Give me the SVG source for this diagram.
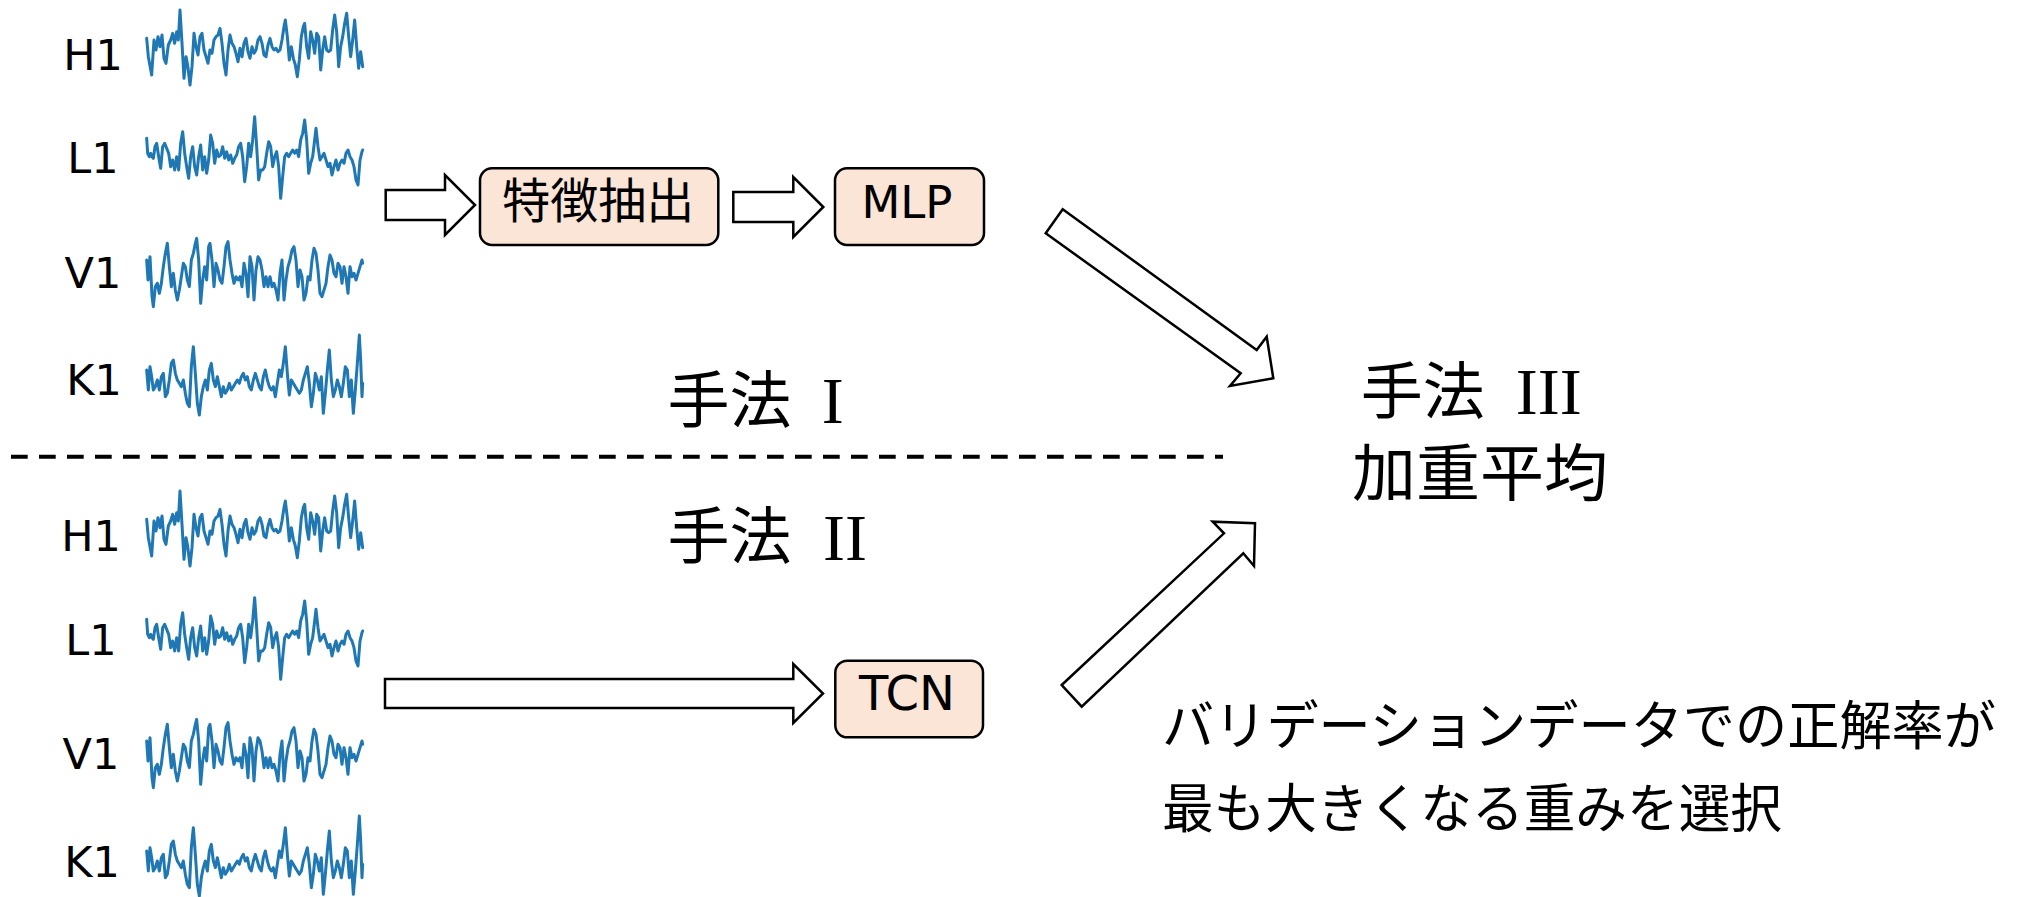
<svg xmlns="http://www.w3.org/2000/svg" xmlns:xlink="http://www.w3.org/1999/xlink" width="2022" height="897" viewBox="0 0 2022 897">
<style>
.bg{fill:#ffffff}
.lbl{font-family:"DejaVu Sans","Liberation Sans",sans-serif;font-size:43px;fill:#000;text-anchor:middle}
.wave{fill:none;stroke:#1f77b4;stroke-width:9;stroke-linejoin:round;stroke-linecap:round}
.box{fill:#fbe5d6;stroke:#000;stroke-width:2.5}
.arrow{fill:#ffffff;stroke:#000;stroke-width:2.5;stroke-linejoin:miter}
.jp{font-family:"Noto Sans CJK JP","Noto Sans CJK SC",sans-serif;fill:#000}
.lat{font-family:"DejaVu Sans","Liberation Sans",sans-serif;fill:#000;text-anchor:middle}
.rom{font-family:"Liberation Serif",serif}
.dash{fill:none;stroke:#000;stroke-width:4;stroke-dasharray:16.7 11.3}
</style>
<defs>
<path id="wH" d="M440,115 L445,170 L455,225 L462,120 L468,150 L474,110 L480,140 L486,105 L492,175 L498,190 L505,135 L512,120 L518,100 L524,130 L530,95 L535,120 L540,30 L546,130 L552,235 L558,170 L563,195 L570,255 L576,200 L582,100 L588,140 L594,165 L600,110 L606,100 L612,150 L618,170 L624,190 L630,150 L636,160 L642,120 L648,110 L654,105 L660,85 L666,130 L672,190 L678,225 L684,150 L690,105 L696,130 L702,140 L708,160 L714,185 L720,145 L726,170 L732,130 L738,115 L744,155 L750,175 L756,140 L762,160 L768,150 L774,120 L780,110 L786,130 L792,165 L798,170 L804,135 L810,115 L816,140 L822,150 L828,145 L834,155 L840,150 L846,120 L852,80 L856,60 L862,110 L868,180 L874,140 L880,175 L886,195 L892,230 L898,180 L904,110 L910,80 L914,70 L920,140 L926,175 L932,95 L938,120 L944,160 L950,100 L956,110 L962,210 L968,150 L974,110 L980,150 L986,155 L992,150 L998,90 L1004,45 L1010,95 L1016,200 L1022,140 L1028,110 L1034,70 L1040,40 L1046,110 L1052,170 L1058,120 L1064,60 L1070,140 L1076,205 L1082,155 L1086,185 L1088,200"/>
<path id="wL" d="M440,415 L443,460 L448,470 L452,460 L456,470 L460,475 L465,440 L470,430 L476,470 L482,505 L488,440 L494,430 L500,445 L506,460 L512,500 L518,480 L524,510 L530,470 L536,510 L542,430 L548,395 L554,460 L560,500 L566,535 L572,470 L578,440 L584,500 L590,525 L596,470 L602,435 L608,510 L614,470 L620,520 L626,480 L632,405 L638,430 L644,490 L650,450 L656,470 L662,465 L668,440 L674,475 L680,455 L686,480 L692,465 L698,490 L704,475 L710,465 L716,440 L722,430 L728,470 L734,545 L740,500 L746,430 L752,470 L758,420 L764,350 L770,440 L776,540 L782,510 L788,510 L794,500 L800,460 L806,425 L812,440 L818,500 L824,470 L830,455 L836,500 L842,595 L848,530 L854,470 L860,460 L866,470 L872,460 L878,450 L884,460 L890,450 L896,470 L902,420 L908,400 L914,360 L920,420 L926,520 L932,490 L938,470 L944,420 L948,385 L954,440 L960,480 L966,470 L972,460 L978,480 L984,500 L990,490 L996,525 L1002,500 L1008,480 L1014,510 L1020,490 L1026,480 L1032,490 L1038,460 L1044,450 L1050,470 L1056,480 L1062,500 L1068,540 L1074,555 L1080,480 L1086,455 L1088,450"/>
<path id="wV" d="M440,780 L444,840 L450,770 L456,890 L460,920 L466,860 L472,850 L478,880 L484,850 L490,800 L496,760 L502,730 L508,800 L514,860 L520,820 L526,870 L532,900 L538,870 L544,830 L550,790 L556,800 L562,840 L568,860 L574,780 L580,760 L586,730 L590,715 L596,780 L602,910 L608,840 L614,800 L620,840 L626,740 L630,730 L636,780 L642,860 L648,790 L654,810 L660,840 L666,850 L672,800 L678,740 L684,725 L690,780 L696,820 L702,850 L708,830 L714,840 L720,830 L726,860 L732,790 L738,820 L744,890 L750,770 L756,800 L762,900 L768,810 L774,770 L780,780 L786,810 L792,860 L798,830 L804,860 L810,830 L816,860 L822,850 L828,870 L834,900 L840,820 L846,780 L852,900 L858,840 L864,800 L870,780 L876,750 L882,740 L888,780 L894,860 L900,810 L906,830 L912,900 L918,880 L924,830 L930,840 L936,780 L942,745 L948,760 L954,810 L960,880 L966,890 L972,870 L978,850 L984,800 L990,765 L996,780 L1002,820 L1008,830 L1014,790 L1020,800 L1026,850 L1032,800 L1038,830 L1044,880 L1050,800 L1056,830 L1062,820 L1068,840 L1074,820 L1080,800 L1086,780 L1088,790"/>
<path id="wK" d="M440,1110 L445,1170 L450,1100 L455,1130 L460,1170 L466,1160 L472,1140 L478,1170 L484,1130 L490,1120 L496,1190 L502,1180 L508,1140 L514,1090 L520,1080 L526,1120 L532,1140 L538,1150 L544,1160 L550,1140 L556,1180 L562,1210 L568,1220 L574,1100 L580,1040 L586,1120 L592,1210 L598,1245 L604,1190 L610,1160 L616,1140 L622,1170 L628,1110 L634,1090 L640,1140 L646,1160 L652,1130 L658,1160 L664,1190 L670,1160 L676,1180 L682,1170 L688,1150 L694,1170 L700,1160 L706,1150 L712,1140 L718,1150 L724,1130 L730,1120 L736,1140 L742,1130 L748,1160 L754,1170 L760,1140 L766,1120 L772,1140 L778,1160 L784,1170 L790,1130 L796,1110 L802,1140 L808,1160 L814,1170 L820,1160 L826,1190 L832,1150 L838,1110 L844,1130 L850,1090 L856,1040 L862,1120 L868,1185 L874,1140 L880,1150 L886,1160 L892,1170 L898,1180 L904,1170 L910,1140 L916,1120 L922,1100 L928,1150 L934,1220 L940,1180 L946,1120 L952,1140 L958,1170 L964,1130 L970,1240 L976,1180 L982,1110 L988,1050 L994,1140 L1000,1190 L1006,1170 L1012,1140 L1018,1160 L1024,1190 L1030,1150 L1036,1100 L1042,1110 L1048,1190 L1054,1140 L1060,1240 L1066,1170 L1072,1090 L1078,1005 L1082,1080 L1086,1190 L1088,1150"/>
</defs>
<rect class="bg" x="0" y="0" width="2022" height="897"/>

<g id="signals-top">
  <g transform="scale(0.333333)">
    <use xlink:href="#wH" href="#wH" class="wave"/>
    <use xlink:href="#wL" href="#wL" class="wave"/>
    <use xlink:href="#wV" href="#wV" class="wave"/>
    <use xlink:href="#wK" href="#wK" class="wave"/>
  </g>
  <text class="lbl" x="93" y="70">H1</text>
  <text class="lbl" x="93" y="173">L1</text>
  <text class="lbl" x="93" y="288">V1</text>
  <text class="lbl" x="94" y="395">K1</text>
</g>

<g id="signals-bottom">
  <g transform="translate(0,481) scale(0.333333)">
    <use xlink:href="#wH" href="#wH" class="wave"/>
    <use xlink:href="#wL" href="#wL" class="wave"/>
    <use xlink:href="#wV" href="#wV" class="wave"/>
    <use xlink:href="#wK" href="#wK" class="wave"/>
  </g>
  <text class="lbl" x="91" y="551">H1</text>
  <text class="lbl" x="91" y="655">L1</text>
  <text class="lbl" x="91" y="769">V1</text>
  <text class="lbl" x="92" y="877">K1</text>
</g>

<g id="node-feature">
  <rect class="box" x="480" y="168.3" width="238.3" height="76.7" rx="12" ry="12"/>
  <text class="jp" x="598.3" y="218.3" font-size="48" text-anchor="middle">特徴抽出</text>
</g>
<g id="node-mlp">
  <rect class="box" x="835" y="168.3" width="149" height="76.7" rx="12" ry="12"/>
  <text class="lat" x="907" y="218" font-size="45">MLP</text>
</g>
<g id="node-tcn">
  <rect class="box" x="835.3" y="660.7" width="147.7" height="76.6" rx="12" ry="12"/>
  <text class="lat" x="907" y="710" font-size="48">TCN</text>
</g>

<g id="label-method1">
  <text class="jp" x="667.5" y="422.5" font-size="62">手法<tspan class="rom" x="821.7" y="423" font-size="66">I</tspan></text>
</g>
<g id="label-method2">
  <text class="jp" x="667.5" y="559" font-size="62">手法<tspan class="rom" x="823" y="559.5" font-size="66">II</tspan></text>
</g>
<g id="node-method3">
  <text class="jp" x="1360.7" y="414" font-size="62">手法<tspan class="rom" x="1515.7" y="413.5" font-size="66">III</tspan></text>
  <text class="jp" x="1352" y="495.5" font-size="62" textLength="256" lengthAdjust="spacingAndGlyphs">加重平均</text>
</g>
<g id="note">
  <text class="jp" x="1162" y="745" font-size="53" textLength="834" lengthAdjust="spacingAndGlyphs">バリデーションデータでの正解率が</text>
  <text class="jp" x="1162" y="828" font-size="53" textLength="620" lengthAdjust="spacingAndGlyphs">最も大きくなる重みを選択</text>
</g>

<g id="separator">
  <line class="dash" x1="11" y1="456.7" x2="1223" y2="456.7"/>
</g>

<g id="connectors">
  <polygon class="arrow" points="385.7,190 445,190 445,175 475,205 445,235 445,220 385.7,220"/>
  <polygon class="arrow" points="733.3,192 793.3,192 793.3,177 823.3,207 793.3,237 793.3,222 733.3,222"/>
  <polygon class="arrow" points="385,679 793.3,679 793.3,664 823,693.5 793.3,723 793.3,708 385,708"/>
  <polygon class="arrow" points="1062.7,209.3 1256.7,350 1266.7,336.7 1273.3,378.3 1230,386 1240.7,373.3 1045.7,233.3"/>
  <polygon class="arrow" points="1061.7,685 1224,533.3 1212.7,521.7 1255,523.3 1254,566 1243.3,553.3 1081.7,706.7"/>
</g>
</svg>
